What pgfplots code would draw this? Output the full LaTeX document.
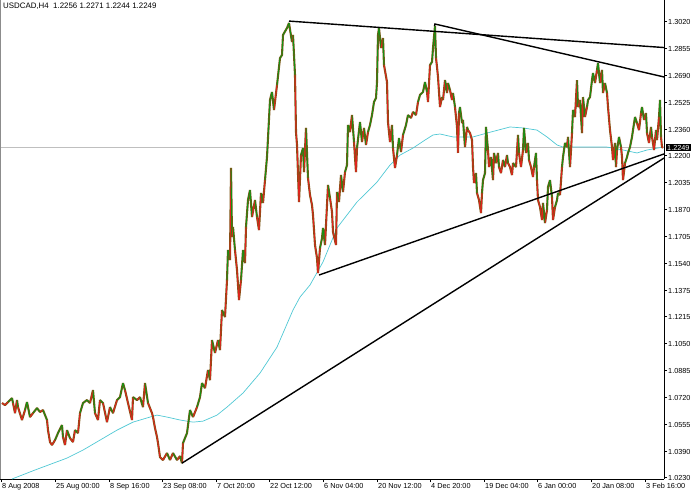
\documentclass[border=0pt]{standalone}
\usepackage{pgfplots}
\pgfplotsset{compat=1.18}
\usepackage{pgfplotstable}
\usepackage{fontspec}
\setmainfont{Liberation Sans}

\definecolor{bull}{RGB}{20,145,20}
\definecolor{bear}{RGB}{225,35,30}
\definecolor{body}{RGB}{125,85,20}
\definecolor{ma}{RGB}{80,200,212}
\newcommand{\chartfont}{\fontsize{7.3}{8.5}\selectfont}

% USDCAD H4 price path: x = bar position, y = price, d = 1 when the move into the point is up
\pgfplotstableread{
x y d
2 1.0687 0
5 1.0674 0
8 1.0693 1
12 1.0717 1
13 1.0687 0
15 1.0625 0
17 1.0705 1
18 1.0662 0
22 1.0583 0
25 1.0644 1
27 1.0693 1
30 1.0601 0
33 1.0625 1
37 1.0656 1
40 1.0632 0
43 1.0644 1
47 1.0583 0
48 1.0521 0
50 1.0448 0
52 1.0430 0
55 1.0460 1
58 1.0503 1
62 1.0552 1
63 1.0479 0
65 1.0430 0
67 1.0521 1
70 1.0472 0
73 1.0448 0
75 1.0521 1
78 1.0503 0
80 1.0625 1
83 1.0687 1
87 1.0705 1
90 1.0687 0
93 1.0766 1
95 1.0625 0
98 1.0583 0
100 1.0705 1
103 1.0687 0
107 1.0570 0
110 1.0662 1
113 1.0625 0
117 1.0705 1
120 1.0723 1
123 1.0809 1
125 1.0766 0
128 1.0687 0
132 1.0583 0
133 1.0723 1
137 1.0705 0
140 1.0723 1
143 1.0662 0
145 1.0809 1
148 1.0687 0
152 1.0625 0
153 1.0601 0
155 1.0534 0
157 1.0479 0
158 1.0442 0
160 1.0356 0
163 1.0338 0
167 1.0381 1
170 1.0338 0
173 1.0381 1
177 1.0338 0
180 1.0362 1
182 1.0319 0
183 1.0442 1
187 1.0503 1
190 1.0644 1
193 1.0601 0
197 1.0662 1
200 1.0723 1
202 1.0809 1
205 1.0778 0
208 1.0889 1
210 1.0827 0
212 1.1072 1
215 1.0993 0
218 1.1072 1
220 1.1011 0
222 1.1256 1
225 1.1213 0
227 1.1439 1
228 1.1623 1
230 1.1562 0
231 1.2125 1
232 1.1703 0
233 1.1764 1
235 1.1623 0
237 1.1501 0
239 1.1317 0
241 1.1439 1
243 1.1623 1
245 1.1543 0
246 1.1764 1
248 1.1929 1
250 1.1990 1
252 1.1825 0
255 1.1929 1
257 1.1825 0
259 1.1745 0
261 1.1972 1
263 1.1911 0
265 1.2051 1
267 1.2192 1
270 1.2541 1
272 1.2590 1
274 1.2480 0
277 1.2633 1
280 1.2798 1
282 1.2816 1
283 1.2939 1
287 1.2982 1
289 1.3012 1
292 1.2896 0
293 1.2939 1
295 1.2694 0
296 1.2345 0
297 1.2266 0
299 1.1917 0
301 1.2204 1
303 1.2247 1
304 1.2100 0
306 1.2370 1
308 1.2064 0
310 1.1960 0
312 1.1898 0
313 1.1837 0
315 1.1654 0
317 1.1574 0
318 1.1482 0
320 1.1635 1
322 1.1696 1
323 1.1758 1
325 1.1654 0
328 1.2021 1
330 1.1941 0
332 1.1856 0
333 1.1733 0
336 1.1654 0
337 1.1978 1
339 1.1917 0
341 1.2082 1
343 1.1978 0
345 1.2100 1
347 1.2143 1
348 1.2388 1
350 1.2345 0
352 1.2449 1
354 1.2284 0
356 1.2100 0
357 1.2247 1
360 1.2406 1
362 1.2284 0
364 1.2370 1
366 1.2266 0
368 1.2345 1
370 1.2388 1
372 1.2449 1
374 1.2529 1
376 1.2553 1
377 1.2651 1
378 1.2939 1
379 1.2982 1
381 1.2859 0
383 1.2920 1
384 1.2755 0
387 1.2651 0
388 1.2406 0
390 1.2284 0
392 1.2388 1
393 1.2247 0
395 1.2125 0
397 1.2204 1
399 1.2308 1
401 1.2223 0
403 1.2327 1
406 1.2388 1
408 1.2449 1
411 1.2431 0
413 1.2468 1
416 1.2449 0
418 1.2529 1
420 1.2572 1
423 1.2590 1
425 1.2651 1
427 1.2590 0
428 1.2529 0
430 1.2755 1
432 1.2774 1
433 1.2859 1
435 1.2994 1
436 1.2798 0
437 1.2743 0
438 1.2682 0
440 1.2498 0
442 1.2559 1
443 1.2541 0
445 1.2663 1
447 1.2584 0
448 1.2645 1
450 1.2602 0
452 1.2541 0
453 1.2584 1
455 1.2498 0
457 1.2376 0
458 1.2217 0
459 1.2461 1
460 1.2498 1
462 1.2400 0
463 1.2419 1
465 1.2253 0
467 1.2376 1
468 1.2357 0
470 1.2339 0
472 1.2296 0
473 1.2131 0
474 1.2033 0
476 1.2094 1
477 1.1972 0
479 1.1929 0
481 1.1849 0
482 1.1972 1
483 1.2051 1
485 1.2094 1
486 1.2376 1
488 1.2235 0
489 1.2131 0
491 1.2192 1
493 1.2051 0
494 1.2217 1
496 1.2155 0
498 1.2217 1
499 1.2131 0
501 1.2094 0
503 1.2174 1
505 1.2131 0
507 1.2204 1
508 1.2155 0
510 1.2131 0
512 1.2082 0
513 1.2155 1
516 1.2131 0
518 1.2327 1
519 1.2217 0
521 1.2131 0
523 1.2235 1
524 1.2370 1
526 1.2217 0
528 1.2278 1
529 1.2174 0
531 1.2131 0
533 1.2070 0
534 1.2131 1
536 1.2217 1
537 1.2051 0
538 1.1929 0
540 1.1886 0
542 1.1807 0
543 1.1911 1
545 1.1788 0
547 1.1868 1
548 1.2009 1
550 1.2051 1
552 1.1947 0
553 1.1807 0
555 1.1886 1
557 1.1929 1
558 1.1972 1
560 1.1960 0
562 1.2131 1
563 1.2192 1
565 1.2278 1
567 1.2253 0
568 1.2315 1
570 1.2131 0
572 1.2339 1
573 1.2480 1
575 1.2437 0
577 1.2663 1
578 1.2498 0
580 1.2541 1
582 1.2339 0
583 1.2559 1
585 1.2437 0
587 1.2498 1
588 1.2541 1
590 1.2559 1
592 1.2663 1
593 1.2706 1
595 1.2645 0
597 1.2725 1
598 1.2767 1
600 1.2645 0
602 1.2725 1
603 1.2584 0
605 1.2645 1
607 1.2584 0
608 1.2498 0
610 1.2357 0
612 1.2253 0
613 1.2174 0
615 1.2278 1
616 1.2131 0
617 1.2235 1
619 1.2315 1
621 1.2253 0
622 1.2192 0
623 1.2051 0
625 1.2155 1
627 1.2192 1
628 1.2217 1
630 1.2253 1
632 1.2315 1
633 1.2357 1
635 1.2437 1
637 1.2400 0
639 1.2357 0
641 1.2461 1
642 1.2498 1
644 1.2419 0
646 1.2461 1
647 1.2339 0
649 1.2278 0
651 1.2376 1
652 1.2315 0
654 1.2235 0
656 1.2357 1
657 1.2296 0
659 1.2437 1
660 1.2541 1
661 1.2315 0
662 1.2253 0
663 1.2249 0
}\price

% moving average
\pgfplotstableread{
x y
12 1.0222
35 1.0277
67 1.0350
83 1.0399
100 1.0460
117 1.0521
133 1.0570
150 1.0601
157 1.0613
167 1.0601
180 1.0583
193 1.0570
203 1.0576
217 1.0613
227 1.0662
243 1.0748
260 1.0870
277 1.1029
293 1.1256
300 1.1335
310 1.1409
323 1.1550
337 1.1758
357 1.1917
377 1.2039
390 1.2143
400 1.2204
413 1.2247
425 1.2296
433 1.2327
440 1.2333
453 1.2315
473 1.2315
487 1.2339
510 1.2376
523 1.2370
537 1.2357
547 1.2315
557 1.2266
563 1.2253
573 1.2253
607 1.2253
623 1.2235
637 1.2217
647 1.2235
663 1.2253
}\mavg

\begin{document}
\begin{tikzpicture}
\begin{axis}[
  at={(0pt,16pt)}, anchor=south west,
  width=664pt, height=479pt, scale only axis,
  xmin=0, xmax=664,
  ymin=1.0222, ymax=1.3153,
  axis x line*=bottom,
  axis y line*=right,
  axis line style={black, line width=0.8pt},
  clip mode=individual,
  tick align=outside,
  major tick length=3pt,
  tick style={black, line width=0.6pt},
  ticklabel style={font=\chartfont},
  xtick={1,55,109,162,216,269,323,377,430,484,537,591,645},
  xticklabels={8 Aug 2008,25 Aug 00:00,8 Sep 16:00,23 Sep 08:00,7 Oct 20:00,22 Oct 12:00,6 Nov 04:00,20 Nov 12:00,4 Dec 20:00,19 Dec 04:00,6 Jan 00:00,20 Jan 08:00,3 Feb 16:00},
  xticklabel style={anchor=north west, inner sep=1pt},
  ytick={1.3020,1.2855,1.2690,1.2525,1.2360,1.2200,1.2035,1.1870,1.1705,1.1540,1.1375,1.1215,1.1050,1.0885,1.0720,1.0555,1.0390,1.0230},
  yticklabels={1.3020,1.2855,1.2690,1.2525,1.2360,1.2200,1.2035,1.1870,1.1705,1.1540,1.1375,1.1215,1.1050,1.0885,1.0720,1.0555,1.0390,1.0230},
  yticklabel style={anchor=west, inner sep=1pt},
]

% current price line
\addplot[color=black!25, line width=0.6pt] coordinates {(0,1.2249) (664,1.2249)};

% moving average
\addplot[color=ma, line width=0.7pt] table[x=x, y=y] {\mavg};

% price: dark candle bodies underneath, up/down colours on top
\addplot[color=body, line width=2.1pt, line join=bevel] table[x=x, y=y] {\price};
\addplot[mesh, shader=flat corner, point meta=\thisrow{d},
  point meta min=0, point meta max=1,
  colormap={updown}{color=(bear) color=(bull)},
  line width=0.9pt] table[x=x, y=y] {\price};

% trend lines
\addplot[black, line width=1.4pt] coordinates {(289,1.3024) (664,1.2862)};
\addplot[black, line width=1.4pt] coordinates {(434.5,1.2994) (435,1.3006) (664,1.2682)};
\addplot[black, line width=1.4pt] coordinates {(319,1.1470) (664,1.2211)};
\addplot[black, line width=1.4pt] coordinates {(182,1.0319) (664,1.2186)};

\draw[black!45, line width=1pt] (axis cs:1,1.0222) -- (axis cs:1,1.3153);
\node[fill=black, text=white, font=\chartfont, inner sep=1pt, anchor=west, xshift=2pt]
  at (axis cs:664,1.2249) {1.2249};
\node[font=\fontsize{7.9}{9}\selectfont, anchor=north west, inner sep=0pt, yshift=-3pt]
  at (axis cs:3,1.3153) {USDCAD,H4\ \ 1.2256 1.2271 1.2244 1.2249};
\end{axis}
\pgfresetboundingbox
\path[use as bounding box] (0,0) rectangle (698pt,495pt);
\end{tikzpicture}
\end{document}
